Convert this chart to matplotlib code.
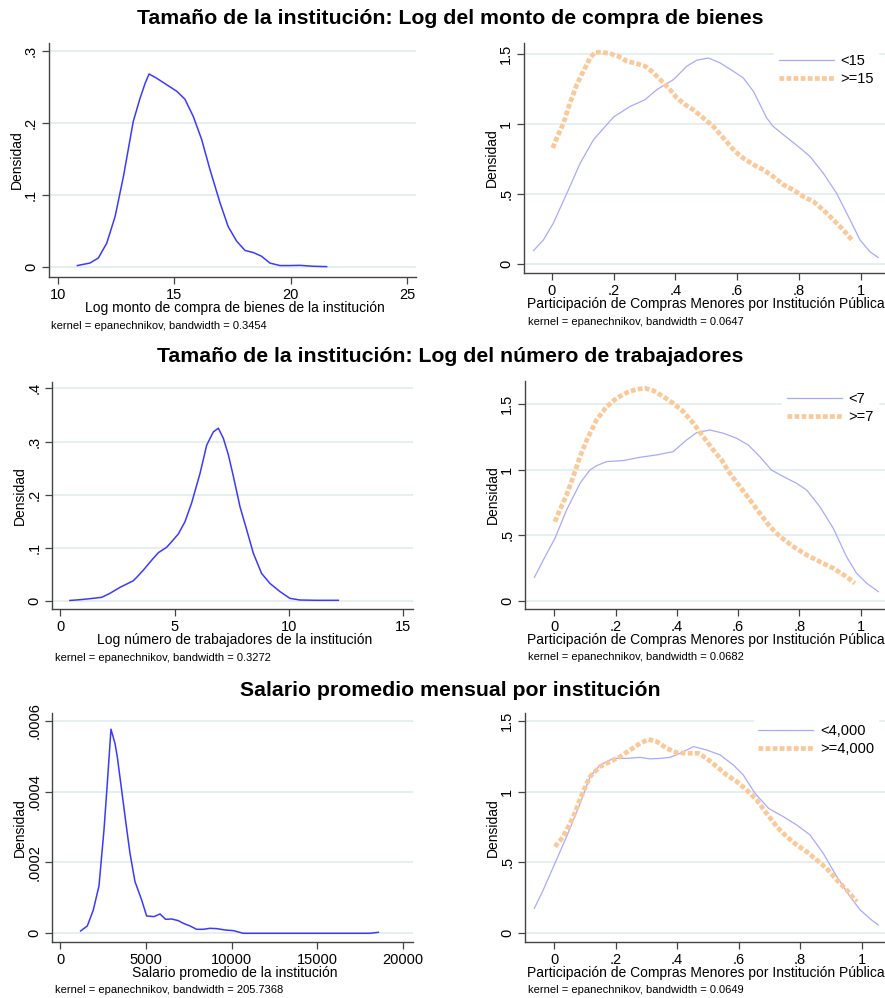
import matplotlib
matplotlib.use("Agg")
import matplotlib.pyplot as plt

plt.rcParams['font.family'] = ['Liberation Sans', 'DejaVu Sans']

W, H = 885, 998

# ---- data ----
titles = ["Tamaño de la institución: Log del monto de compra de bienes",
          "Tamaño de la institución: Log del número de trabajadores",
          "Salario promedio mensual por institución"]

# top-left: log monto de compra
monto_x = [10.83, 11.37, 11.73, 12.09, 12.45, 12.81, 13.23, 13.52, 13.74, 13.91, 14.24, 14.67,
           15.10, 15.45, 15.81, 16.17, 16.53, 16.96, 17.31, 17.67, 18.03, 18.39, 18.74, 19.10,
           19.53, 19.96, 20.39, 20.96, 21.54]
monto_y = [0.002, 0.0055, 0.0125, 0.033, 0.070, 0.126, 0.202, 0.234, 0.255, 0.268, 0.262, 0.253,
           0.244, 0.233, 0.209, 0.177, 0.135, 0.089, 0.056, 0.036, 0.023, 0.020, 0.015, 0.0055,
           0.002, 0.002, 0.0023, 0.001, 0.0005]

# top-right: participacion by monto group
p1_lo_x = [-0.059, -0.027, 0.005, 0.049, 0.092, 0.135, 0.2, 0.254, 0.302, 0.34, 0.394, 0.437,
           0.469, 0.507, 0.545, 0.588, 0.62, 0.653, 0.696, 0.717, 0.75, 0.798, 0.836, 0.879,
           0.922, 0.966, 0.998, 1.03, 1.057]
p1_lo_y = [0.098, 0.174, 0.293, 0.507, 0.721, 0.888, 1.05, 1.126, 1.174, 1.245, 1.317, 1.412,
           1.455, 1.471, 1.436, 1.376, 1.329, 1.233, 1.043, 0.983, 0.924, 0.840, 0.769, 0.65,
           0.507, 0.317, 0.174, 0.09, 0.048]
p1_hi_x = [0.003, 0.016, 0.038, 0.059, 0.081, 0.102, 0.124, 0.14, 0.162, 0.189, 0.216, 0.243,
           0.275, 0.302, 0.324, 0.351, 0.383, 0.405, 0.432, 0.458, 0.491, 0.523, 0.556, 0.593,
           0.62, 0.653, 0.685, 0.717, 0.75, 0.782, 0.814, 0.847, 0.879, 0.912, 0.944, 0.976]
p1_hi_y = [0.829, 0.9, 1.007, 1.15, 1.281, 1.376, 1.471, 1.512, 1.512, 1.502, 1.483, 1.448,
           1.431, 1.412, 1.376, 1.317, 1.245, 1.186, 1.138, 1.102, 1.043, 0.983, 0.9, 0.805,
           0.757, 0.71, 0.674, 0.626, 0.567, 0.531, 0.483, 0.448, 0.388, 0.317, 0.245, 0.162]

# middle-left: log numero de trabajadores
trab_x = [0.42, 0.86, 1.30, 1.81, 2.17, 2.61, 3.19, 3.34, 3.63, 4.0, 4.29, 4.65, 4.94, 5.16,
          5.45, 5.74, 6.11, 6.40, 6.69, 6.91, 7.13, 7.35, 7.57, 7.86, 8.15, 8.44, 8.80, 9.17,
          9.61, 10.04, 10.48, 11.21, 12.16]
trab_y = [0.001, 0.0025, 0.0044, 0.0069, 0.0144, 0.0257, 0.038, 0.0445, 0.058, 0.077, 0.091,
          0.101, 0.115, 0.126, 0.149, 0.184, 0.240, 0.293, 0.318, 0.325, 0.306, 0.275, 0.234,
          0.177, 0.134, 0.090, 0.052, 0.033, 0.0176, 0.005, 0.0019, 0.0013, 0.0013]

# middle-right: participacion by trabajadores group
p2_lo_x = [-0.065, -0.036, 0.002, 0.04, 0.084, 0.116, 0.138, 0.171, 0.225, 0.28, 0.334, 0.388,
           0.432, 0.465, 0.508, 0.552, 0.595, 0.633, 0.671, 0.709, 0.748, 0.791, 0.824, 0.867,
           0.911, 0.954, 0.987, 1.02, 1.058]
p2_lo_y = [0.18, 0.312, 0.477, 0.693, 0.896, 0.997, 1.030, 1.061, 1.069, 1.094, 1.112, 1.137,
           1.226, 1.282, 1.302, 1.277, 1.239, 1.188, 1.099, 0.997, 0.947, 0.896, 0.845, 0.718,
           0.553, 0.338, 0.211, 0.135, 0.071]
p2_hi_x = [0.002, 0.018, 0.04, 0.062, 0.084, 0.106, 0.138, 0.171, 0.203, 0.236, 0.269, 0.296,
           0.323, 0.356, 0.388, 0.421, 0.454, 0.486, 0.519, 0.546, 0.573, 0.606, 0.639, 0.671,
           0.704, 0.737, 0.780, 0.824, 0.867, 0.911, 0.954, 0.981]
p2_hi_y = [0.604, 0.693, 0.807, 0.947, 1.099, 1.226, 1.378, 1.480, 1.543, 1.586, 1.612, 1.619,
           1.602, 1.556, 1.505, 1.442, 1.353, 1.251, 1.150, 1.074, 0.972, 0.871, 0.769, 0.668,
           0.566, 0.490, 0.414, 0.350, 0.299, 0.249, 0.185, 0.135]

# bottom-left: salario promedio
sal_x = [1187, 1576, 1926, 2257, 2549, 2743, 2957, 3191, 3327, 3580, 3833, 4066, 4358, 4747,
         5039, 5467, 5817, 6148, 6498, 6887, 7179, 7568, 7957, 8346, 8735, 9125, 9611, 10097,
         10681, 12043, 13988, 15934, 18074, 18560]
sal_y = [0.0000066, 0.0000207, 0.0000658, 0.0001335, 0.0002915, 0.000423, 0.000576, 0.000536,
         0.000498, 0.000404, 0.000310, 0.000226, 0.000146, 0.000094, 0.0000489, 0.000047,
         0.0000545, 0.0000395, 0.0000404, 0.0000357, 0.0000282, 0.0000207, 0.0000113, 0.0000113,
         0.0000141, 0.0000132, 0.0000094, 0.0000075, 0.0, 0.0, 0.0, 0.0, 0.0, 0.0000028]

# bottom-right: participacion by salario group
p3_lo_x = [-0.064, -0.035, 0.003, 0.041, 0.085, 0.117, 0.15, 0.193, 0.236, 0.28, 0.312, 0.345,
           0.377, 0.41, 0.453, 0.496, 0.54, 0.583, 0.615, 0.653, 0.697, 0.745, 0.789, 0.832,
           0.875, 0.919, 0.962, 0.995, 1.032, 1.054]
p3_lo_y = [0.176, 0.306, 0.494, 0.682, 0.917, 1.105, 1.187, 1.234, 1.234, 1.241, 1.23, 1.234,
           1.241, 1.27, 1.317, 1.293, 1.258, 1.187, 1.117, 0.988, 0.882, 0.823, 0.764, 0.694,
           0.564, 0.40, 0.259, 0.165, 0.094, 0.059]
p3_hi_x = [0.003, 0.03, 0.063, 0.09, 0.117, 0.15, 0.182, 0.215, 0.247, 0.28, 0.307, 0.334,
           0.366, 0.399, 0.431, 0.469, 0.496, 0.529, 0.561, 0.594, 0.626, 0.659, 0.691, 0.724,
           0.756, 0.789, 0.821, 0.854, 0.886, 0.919, 0.951, 0.984]
p3_hi_y = [0.611, 0.682, 0.823, 0.976, 1.105, 1.176, 1.211, 1.246, 1.293, 1.34, 1.368, 1.352,
           1.305, 1.274, 1.27, 1.27, 1.234, 1.176, 1.117, 1.07, 1.011, 0.94, 0.846, 0.752,
           0.682, 0.623, 0.576, 0.517, 0.458, 0.376, 0.306, 0.223]

xlabels_left = ["Log monto de compra de bienes de la institución",
                "Log número de trabajadores de la institución",
                "Salario promedio de la institución"]
xlabel_right = "Participación de Compras Menores por Institución Pública"
bw_left = ["0.3454", "0.3272", "205.7368"]
bw_right = ["0.0647", "0.0682", "0.0649"]
legend_labels = [["<15", ">=15"], ["<7", ">=7"], ["<4,000", ">=4,000"]]

left_xticks = [[10, 15, 20, 25], [0, 5, 10, 15], [0, 5000, 10000, 15000, 20000]]
left_yticks = [[0, 0.1, 0.2, 0.3], [0, 0.1, 0.2, 0.3, 0.4], [0, 0.0002, 0.0004, 0.0006]]
left_ylabels = [["0", ".1", ".2", ".3"], ["0", ".1", ".2", ".3", ".4"],
                ["0", ".0002", ".0004", ".0006"]]
right_xticks = [0, 0.2, 0.4, 0.6, 0.8, 1]
right_xlabels = ["0", ".2", ".4", ".6", ".8", "1"]
right_yticks = [0, 0.5, 1, 1.5]
right_ylabels = ["0", ".5", "1", "1.5"]

left_data = [(monto_x, monto_y), (trab_x, trab_y), (sal_x, sal_y)]
right_data = [(p1_lo_x, p1_lo_y, p1_hi_x, p1_hi_y),
              (p2_lo_x, p2_lo_y, p2_hi_x, p2_hi_y),
              (p3_lo_x, p3_lo_y, p3_hi_x, p3_hi_y)]

# ---- layout (pixel boxes: left, top, right, bottom) ----
left_boxes = [(49, 43, 416, 277), (52.3, 381.7, 412.7, 609.3), (52.3, 712.7, 412.7, 942.3)]
right_boxes = [(524.3, 42.7, 885, 273), (525.3, 380.7, 885, 609.3), (525.3, 712.7, 885, 941.7)]
left_lims = [((9.61, 25.38), (-0.0139, 0.311)),
             ((-0.35, 15.41), (-0.0156, 0.4125)),
             ((-467, 20566), (-0.0000254, 0.0006226))]
right_lims = [((-0.089, 1.079), (-0.062, 1.58)),
              ((-0.0947, 1.0797), (-0.063, 1.677)),
              ((-0.0933, 1.0757), (-0.059, 1.556))]
title_y = [19, 357, 691]
xlab_y_left = [308, 640, 973]
xlab_y_right = [304, 640, 973]
note_y_left = [326, 658, 990]
note_y_right = [322, 657, 990]
note_x_left = [51, 55, 55]

BLUE = "#3a3aff"
LBLUE = "#a9a9ff"
PEACH = "#fdc898"
GRID = "#e6eff0"
AXC = "#444444"
FS = 10

fig = plt.figure(figsize=(W / 100, H / 100), dpi=100)
fig.patch.set_facecolor("white")


def make_ax(box):
    l, t, r, b = box
    ax = fig.add_axes([l / W, 1 - b / H, (r - l) / W, (b - t) / H])
    for s in ("top", "right"):
        ax.spines[s].set_visible(False)
    for s in ("left", "bottom"):
        ax.spines[s].set_color(AXC)
        ax.spines[s].set_linewidth(1.0)
    ax.tick_params(colors=AXC, labelcolor="black", labelsize=FS + 0.5, length=5, width=0.9)
    ax.tick_params(axis="y", pad=3)
    ax.tick_params(axis="x", pad=3)
    ax.grid(axis="y", color=GRID, linewidth=1.4)
    ax.set_axisbelow(True)
    return ax


def ftext(x, y, s, **kw):
    fig.text(x / W, 1 - y / H, s, **kw)


for i in range(3):
    ftext(450, title_y[i], titles[i], ha="center", va="center", fontsize=15.3, fontweight="bold")

    # left panel
    ax = make_ax(left_boxes[i])
    x, y = left_data[i]
    ax.plot(x, y, color=BLUE, linewidth=1.1)
    ax.set_xlim(*left_lims[i][0])
    ax.set_ylim(*left_lims[i][1])
    ax.set_xticks(left_xticks[i])
    ax.set_yticks(left_yticks[i])
    ax.set_yticklabels(left_ylabels[i], rotation=90, va="center")
    ax.set_ylabel("Densidad", fontsize=FS, labelpad=0)
    l, t, r, b = left_boxes[i]
    ftext((l + r) / 2 + 2, xlab_y_left[i], xlabels_left[i], ha="center", va="center", fontsize=FS)
    ftext(note_x_left[i], note_y_left[i],
          "kernel = epanechnikov, bandwidth = " + bw_left[i], ha="left", va="center", fontsize=8)

    # right panel
    ax = make_ax(right_boxes[i])
    xl, yl, xh, yh = right_data[i]
    ax.plot(xl, yl, color=LBLUE, linewidth=0.9, label=legend_labels[i][0])
    ax.plot(xh, yh, color=PEACH, linewidth=3.4, linestyle=(0, (1.0, 0.5)),
            dash_capstyle="butt", label=legend_labels[i][1])
    ax.set_xlim(*right_lims[i][0])
    ax.set_ylim(*right_lims[i][1])
    ax.set_xticks(right_xticks)
    ax.set_xticklabels(right_xlabels)
    ax.set_yticks(right_yticks)
    ax.set_yticklabels(right_ylabels, rotation=90, va="center")
    ax.set_ylabel("Densidad", fontsize=FS, labelpad=0)
    leg = ax.legend(loc="upper right", bbox_to_anchor=(1.0, 1.0), frameon=True,
                    fontsize=FS + 0.5, handlelength=3.8, handletextpad=0.45,
                    labelspacing=0.3, borderpad=0.3, borderaxespad=0.45, fancybox=False)
    leg.get_frame().set_facecolor("white")
    leg.get_frame().set_edgecolor("white")
    leg.get_frame().set_alpha(1.0)
    ftext(527, xlab_y_right[i], xlabel_right, ha="left", va="center", fontsize=FS)
    ftext(528, note_y_right[i],
          "kernel = epanechnikov, bandwidth = " + bw_right[i], ha="left", va="center", fontsize=8)

fig.savefig("out.png", dpi=100, facecolor="white")
